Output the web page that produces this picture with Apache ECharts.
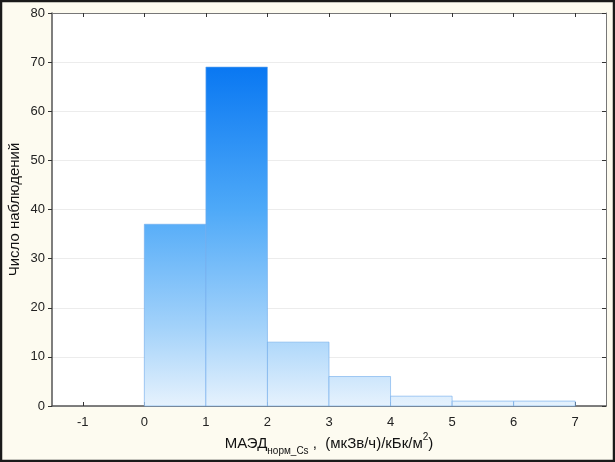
<!DOCTYPE html>
<html>
<head>
<meta charset="utf-8">
<script src="https://cdn.jsdelivr.net/npm/echarts@6/dist/echarts.min.js"></script>
<style>
  html, body { margin: 0; padding: 0; background: #fdfbf0; }
  #chart { width: 615px; height: 462px; }
</style>
</head>
<body>
<div id="chart"></div>
<script>
// границы интервалов и частоты
const binStarts = [0, 1, 2, 3, 4, 5, 6];
const binEnds = [1, 2, 3, 4, 5, 6, 7];
const counts = [37, 69, 13, 6, 2, 1, 1];
const xTicks = [-1, 0, 1, 2, 3, 4, 5, 6, 7];

window.onload = function () {
  init();
};

function init() {
  const myChart = echarts.init(document.getElementById('chart'));

  const gridTop = 13, gridBottom = 56, gridLeft = 52, gridRight = 9;
  const plotBottomPx = 462 - gridBottom;

  // градиент общий для всей области графика (по вертикали)
  const fill = new echarts.graphic.LinearGradient(0, gridTop, 0, plotBottomPx, [
    { offset: 0, color: '#0063e8' },
    { offset: 0.14, color: '#0a78f2' },
    { offset: 0.5, color: '#4ea9f8' },
    { offset: 0.8, color: '#a3d2fa' },
    { offset: 1, color: '#e6f2fd' },
  ], true);

  const data = binStarts.map((s, i) => [s, binEnds[i], counts[i]]);

  const option = {
    backgroundColor: '#fdfbf0',
    animation: false,
    textStyle: { fontFamily: 'Liberation Sans, Arial, sans-serif' },
    grid: {
      left: gridLeft, right: gridRight, top: gridTop, bottom: gridBottom,
      outerBoundsMode: 'none', containLabel: false,
      show: true, backgroundColor: '#ffffff', borderWidth: 0,
    },
    xAxis: [{
      type: 'value', min: -1.5, max: 7.5, interval: 0.5,
      position: 'bottom',
      axisLine: { show: true, onZero: false, lineStyle: { color: '#555', width: 1.5 } },
      axisTick: { inside: true, length: 4, lineStyle: { color: '#333' }, customValues: xTicks },
      axisLabel: { color: '#222', fontSize: 13, margin: 10, customValues: xTicks },
      splitLine: { show: false },
      name: '{a|МАЭД}{sub|норм_Cs}{a| ,  (мкЗв/ч)/кБк/м}{sup|2}{a|)}',
      nameLocation: 'middle', nameGap: 26, nameMoveOverlap: false,
      nameTextStyle: {
        rich: {
          a: { fontSize: 15, color: '#111', fontFamily: 'Liberation Sans', verticalAlign: 'middle', lineHeight: 24 },
          sub: { fontSize: 10, color: '#111', fontFamily: 'Liberation Sans', verticalAlign: 'bottom', lineHeight: 14 },
          sup: { fontSize: 10, color: '#111', fontFamily: 'Liberation Sans', verticalAlign: 'top', lineHeight: 8 },
        },
      },
    }, {
      type: 'value', min: -1.5, max: 7.5, interval: 0.5,
      position: 'top',
      axisLine: { show: true, onZero: false, lineStyle: { color: '#777', width: 1 } },
      axisTick: { inside: true, length: 4, lineStyle: { color: '#333' }, customValues: xTicks },
      axisLabel: { show: false },
      splitLine: { show: false },
    }],
    yAxis: [{
      type: 'value', min: 0, max: 80, interval: 10,
      position: 'left',
      axisLine: { show: true, onZero: false, lineStyle: { color: '#555', width: 1.5 } },
      axisTick: { show: true, inside: false, length: 4, lineStyle: { color: '#333' } },
      axisLabel: { color: '#222', fontSize: 13, margin: 7 },
      splitLine: { show: true, lineStyle: { color: '#ececec', width: 1 } },
      name: 'Число наблюдений', nameLocation: 'middle', nameGap: 30, nameMoveOverlap: false,
      nameTextStyle: { fontSize: 15, color: '#111', fontFamily: 'Liberation Sans' },
    }, {
      type: 'value', min: 0, max: 80, interval: 10,
      position: 'right',
      axisLine: { show: true, onZero: false, lineStyle: { color: '#777', width: 1 } },
      axisTick: { show: true, inside: true, length: 4, lineStyle: { color: '#333' } },
      axisLabel: { show: false },
      splitLine: { show: false },
    }],
    series: [{
      type: 'custom',
      xAxisIndex: 0, yAxisIndex: 0,
      renderItem: function (params, api) {
        const p0 = api.coord([api.value(0), api.value(2)]);
        const p1 = api.coord([api.value(1), 0]);
        return {
          type: 'rect',
          shape: { x: p0[0], y: p0[1], width: p1[0] - p0[0], height: p1[1] - p0[1] },
          style: { fill: fill, stroke: 'rgba(110,170,235,0.6)', lineWidth: 1 },
        };
      },
      encode: { x: [0, 1], y: 2 },
      data: data,
    }],
    graphic: [{
      type: 'rect', z: 100, silent: true,
      shape: { x: 1, y: 1, width: 613, height: 460 },
      style: { fill: null, stroke: '#1a1a1a', lineWidth: 2.5 },
    }],
  };

  myChart.setOption(option);
}
</script>
</body>
</html>
